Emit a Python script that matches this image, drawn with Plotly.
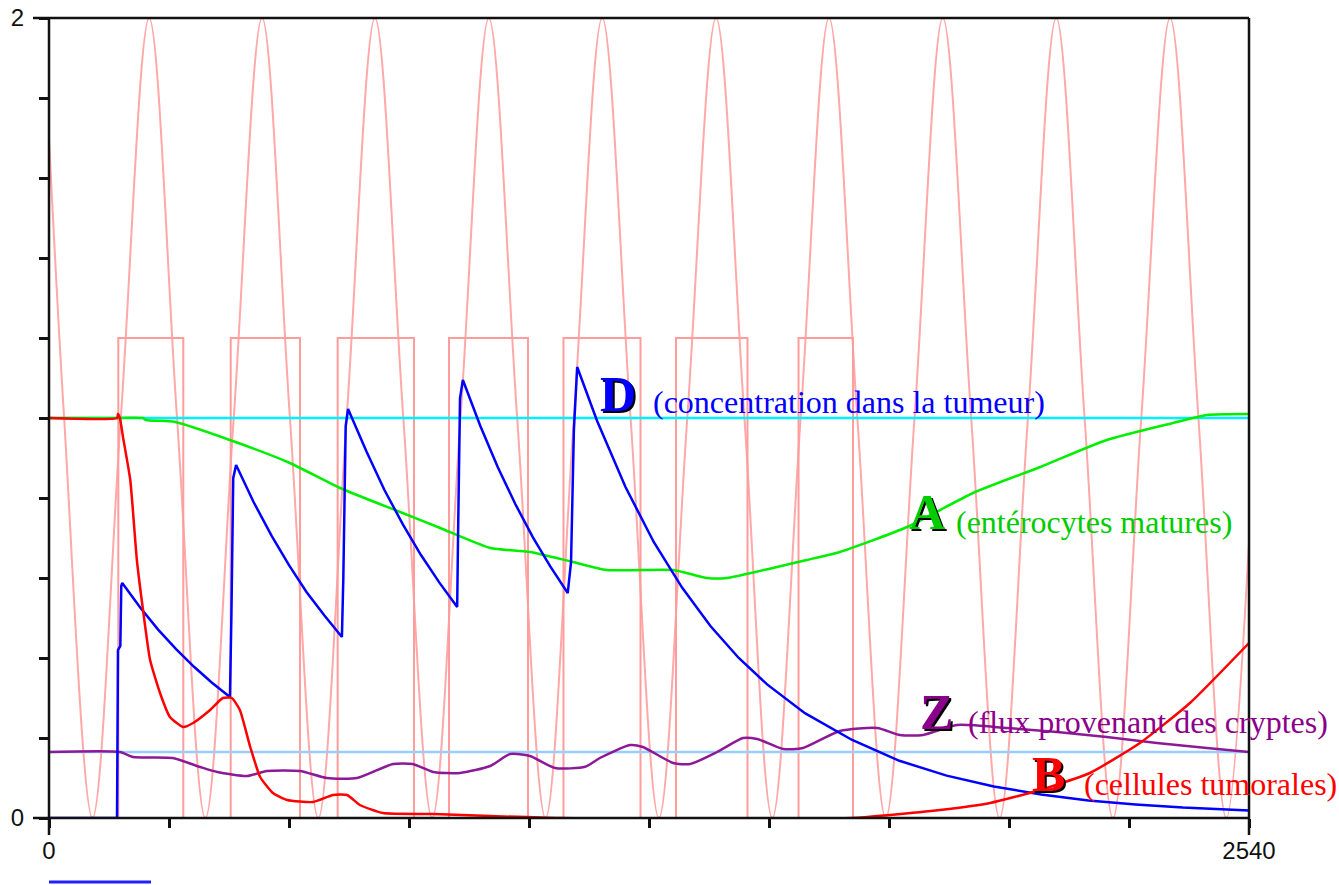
import plotly.graph_objects as go

# ---------------- data (x in model time units, y in values) ----------------
X_MAX = 2540
Y_MAX = 2

# oscillating forcing (pink sinusoid): peaks, troughs and mid crossings
sin_x = [0, 32, 92, 152, 212, 271, 331, 391, 451, 510, 570, 630, 690, 750, 811, 871,
         931, 991, 1051, 1111, 1171, 1231, 1291, 1351, 1412, 1472, 1531, 1591, 1651,
         1711, 1771, 1832, 1892, 1952, 2012, 2072, 2132, 2192, 2252, 2312, 2373, 2433,
         2492, 2540]
sin_y = [1.7, 1.0, 0.0, 1.0, 2.0, 1.0, 0.0, 1.0, 2.0, 1.0, 0.0, 1.0, 2.0, 1.0, 0.0, 1.0,
         2.0, 1.0, 0.0, 1.0, 2.0, 1.0, 0.0, 1.0, 2.0, 1.0, 0.0, 1.0, 2.0,
         1.0, 0.0, 1.0, 2.0, 1.0, 0.0, 1.0, 2.0, 1.0, 0.0, 1.0, 2.0, 1.0,
         0.0, 0.69]

# treatment pulses (pink rectangles)
pulse_x = [0, 146.7, 146.7, 284.3, 284.3, 384.6, 384.6, 531.3, 531.3, 611, 611, 772.6,
           772.6, 846.7, 846.7, 1013.9, 1013.9, 1089, 1089, 1252, 1252, 1327.2, 1327.2,
           1478.5, 1478.5, 1586.5, 1586.5, 1701.8, 1701.8, 2540]
pulse_y = [0, 0, 1.2, 1.2, 0, 0, 1.2, 1.2, 0, 0, 1.2, 1.2,
           0, 0, 1.2, 1.2, 0, 0, 1.2, 1.2, 0, 0, 1.2,
           1.2, 0, 0, 1.2, 1.2, 0, 0]

ref_high = 1.0     # cyan reference line
ref_low = 0.165    # light-blue reference line

# D : concentration dans la tumeur
D_x = [0, 144, 146, 151, 153, 155, 193, 231, 269, 307, 345, 383,
       386, 390, 396, 433, 471, 508, 545, 583, 620,
       623, 628, 633, 672, 710, 749, 787, 826, 864,
       866, 870, 876, 913, 950, 987, 1024, 1061, 1098,
       1105, 1111, 1118, 1160, 1220, 1280, 1340, 1400, 1460, 1520, 1600, 1700, 1800,
       1900, 2000, 2100, 2200, 2300, 2400, 2540]
D_y = [0, 0, 0.42, 0.43, 0.58, 0.5875, 0.526, 0.471, 0.422, 0.378, 0.338, 0.3025,
       0.50, 0.85, 0.8825, 0.790, 0.706, 0.632, 0.565, 0.506, 0.4525,
       0.60, 0.98, 1.0225, 0.916, 0.820, 0.734, 0.658, 0.589, 0.5275,
       0.72, 1.05, 1.095, 0.980, 0.877, 0.785, 0.702, 0.629, 0.5625,
       0.64, 0.97, 1.1275, 0.993, 0.828, 0.690, 0.576, 0.480, 0.400, 0.334, 0.262,
       0.195, 0.143, 0.106, 0.079, 0.059, 0.044, 0.034, 0.026, 0.019]

# A : entérocytes matures
A_x = [0, 146, 199, 205, 267, 383, 510, 616, 743, 828, 934, 1018, 1109, 1181, 1321, 1393,
       1435, 1532, 1604, 1674, 1816, 1956, 2098, 2239, 2379, 2451, 2540]
A_y = [1.0, 1.0, 1.0, 0.995, 0.99, 0.945, 0.8875, 0.825, 0.765, 0.725, 0.675, 0.665, 0.64,
       0.62, 0.62, 0.60, 0.60, 0.625, 0.645, 0.665, 0.7275, 0.8125, 0.8775, 0.945, 0.9875,
       1.0075, 1.01]

# B : cellules tumorales
B_x = [0, 144, 146, 150, 157, 172, 186, 199, 214, 235, 256, 284, 305, 341, 368, 387, 404,
       426, 447, 474, 504, 559, 601, 631, 658, 707, 813, 934, 1082, 1700, 1780, 1886, 1992,
       2098, 2203, 2309, 2415, 2540]
B_y = [1.0, 1.0, 1.01, 1.0, 0.95, 0.845, 0.645, 0.52, 0.395, 0.3125, 0.2525, 0.2275,
       0.2375, 0.27, 0.30, 0.30, 0.27, 0.1775, 0.1025, 0.0625, 0.045, 0.04, 0.0575, 0.0575,
       0.0325, 0.0125, 0.01, 0.005, 0.0, 0.0, 0.0075, 0.02, 0.0375, 0.07, 0.1125, 0.1875,
       0.2875, 0.4375]

# Z : flux provenant des cryptes
Z_x = [0, 150, 178, 262, 320, 356, 419, 461, 531, 588, 652, 728, 770, 813, 870, 934, 976,
       1018, 1071, 1135, 1166, 1230, 1257, 1321, 1357, 1414, 1469, 1499, 1554, 1596, 1674,
       1753, 1801, 1850, 1922, 2028, 2134, 2239, 2345, 2451, 2540]
Z_y = [0.165, 0.165, 0.1525, 0.15, 0.1275, 0.115, 0.105, 0.1175, 0.1175, 0.10, 0.10, 0.135,
       0.135, 0.115, 0.1125, 0.13, 0.16, 0.155, 0.125, 0.128, 0.15, 0.1825, 0.1775, 0.1375,
       0.135, 0.165, 0.20, 0.1975, 0.1725, 0.175, 0.2175, 0.225, 0.2075, 0.2075, 0.2325,
       0.225, 0.215, 0.2025, 0.1875, 0.175, 0.165]

x_tickvals = [0, 254, 508, 762, 1016, 1270, 1524, 1778, 2032, 2286, 2540]
x_ticktext = ["0", "", "", "", "", "", "", "", "", "", "2540"]
y_tickvals = [0, 0.2, 0.4, 0.6, 0.8, 1.0, 1.2, 1.4, 1.6, 1.8, 2.0]
y_ticktext = ["0", "", "", "", "", "", "", "", "", "", "2"]

# labels: (letter, description, colour, letter x, letter y, text x, text y)
labels = [
    ("D", "(concentration dans la tumeur)", "#0000ff", 1204, 1.061, 1274, 1.04),
    ("A", "(entérocytes matures)", "#00cc00", 1858, 0.766, 1915, 0.74),
    ("Z", "(flux provenant des cryptes)", "#8b008b", 1878, 0.266, 1941, 0.24),
    ("B", "(cellules tumorales)", "#ff0000", 2115, 0.11, 2187, 0.085),
]

# ---------------- figure ----------------
fig = go.Figure()

fig.add_trace(go.Scatter(x=sin_x, y=sin_y, mode="lines",
                         line=dict(color="#ffa8a8", width=2, shape="spline", smoothing=1.0),
                         hoverinfo="skip"))
fig.add_trace(go.Scatter(x=pulse_x, y=pulse_y, mode="lines",
                         line=dict(color="#ff9c9c", width=2), hoverinfo="skip"))
fig.add_trace(go.Scatter(x=[0, X_MAX], y=[ref_high, ref_high], mode="lines",
                         line=dict(color="#00f0ff", width=2.5)))
fig.add_trace(go.Scatter(x=[0, X_MAX], y=[ref_low, ref_low], mode="lines",
                         line=dict(color="#99ccff", width=2.5)))
fig.add_trace(go.Scatter(x=Z_x, y=Z_y, mode="lines",
                         line=dict(color="#8c1a96", width=2.5, shape="spline", smoothing=0.6)))
fig.add_trace(go.Scatter(x=A_x, y=A_y, mode="lines",
                         line=dict(color="#00ee00", width=2.5, shape="spline", smoothing=0.6)))
fig.add_trace(go.Scatter(x=D_x, y=D_y, mode="lines",
                         line=dict(color="#0000ff", width=2.5)))
fig.add_trace(go.Scatter(x=B_x, y=B_y, mode="lines",
                         line=dict(color="#ff0000", width=2.5, shape="spline", smoothing=0.5)))

annotations = []
for letter, desc, col, lx, ly, tx, ty in labels:
    annotations.append(dict(x=lx, y=ly, xref="x", yref="y", text="<b>" + letter + "</b>",
                            showarrow=False, xanchor="center", yanchor="middle",
                            xshift=2, yshift=-2,
                            font=dict(family="Liberation Serif", size=50, color="#000000")))
    annotations.append(dict(x=lx, y=ly, xref="x", yref="y", text="<b>" + letter + "</b>",
                            showarrow=False, xanchor="center", yanchor="middle",
                            font=dict(family="Liberation Serif", size=50, color=col)))
    annotations.append(dict(x=tx, y=ty, xref="x", yref="y", text=desc,
                            showarrow=False, xanchor="left", yanchor="middle",
                            font=dict(family="Liberation Serif", size=32, color=col)))

ext_x = 16 / 1200
ext_y = 17 / 800
frame = dict(color="#111111", width=2.5)
shapes = [
    dict(type="line", xref="paper", yref="paper", x0=0, x1=0, y0=-ext_y, y1=1, line=frame),
    dict(type="line", xref="paper", yref="paper", x0=1, x1=1, y0=-ext_y, y1=1, line=frame),
    dict(type="line", xref="paper", yref="paper", x0=-ext_x, x1=1, y0=1, y1=1, line=frame),
    dict(type="line", xref="paper", yref="paper", x0=-ext_x, x1=1, y0=0, y1=0, line=frame),
    dict(type="line", xref="paper", yref="paper", x0=0, x1=102 / 1200, y0=-64 / 800,
         y1=-64 / 800, line=dict(color="#2020ff", width=3)),
]

fig.update_layout(
    width=1339, height=885,
    margin=dict(l=49, r=90, t=18, b=67, autoexpand=False),
    paper_bgcolor="white", plot_bgcolor="white",
    showlegend=False,
    annotations=annotations,
    shapes=shapes,
    xaxis=dict(range=[0, X_MAX], tickvals=x_tickvals, ticktext=x_ticktext,
               ticks="outside", ticklen=9, tickwidth=2.5, tickcolor="#111111",
               showgrid=False, zeroline=False, showline=False, ticklabelstandoff=2,
               automargin=False,
               tickfont=dict(family="Liberation Sans", size=24, color="#111111")),
    yaxis=dict(range=[0, Y_MAX], tickvals=y_tickvals, ticktext=y_ticktext,
               ticks="outside", ticklen=9, tickwidth=2.5, tickcolor="#111111",
               showgrid=False, zeroline=False, showline=False, ticklabelstandoff=10,
               automargin=False,
               tickfont=dict(family="Liberation Sans", size=24, color="#111111")),
)

fig.write_html("out.html")
